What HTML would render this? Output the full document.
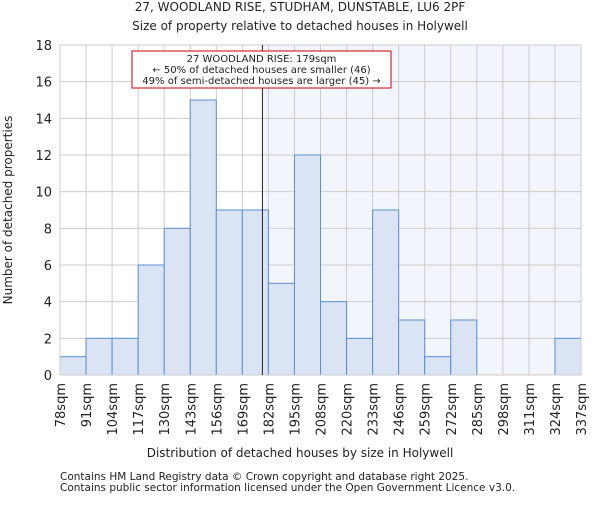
<!DOCTYPE html>
<html><head><meta charset="utf-8"><style>body{margin:0;background:#fff}svg text{font-family:"DejaVu Sans","Liberation Sans",sans-serif;fill:#222}</style></head>
<body>
<svg id="c" width="600" height="500">
<text x="300" y="11" text-anchor="middle" font-size="12">27, WOODLAND RISE, STUDHAM, DUNSTABLE, LU6 2PF</text>
<text x="300" y="30" text-anchor="middle" font-size="12">Size of property relative to detached houses in Holywell</text>
<g id="plot"></g>
<text x="300" y="457" text-anchor="middle" font-size="12">Distribution of detached houses by size in Holywell</text>
<text transform="translate(12,210) rotate(-90)" text-anchor="middle" font-size="12">Number of detached properties</text>
<text x="60" y="480" font-size="10.5">Contains HM Land Registry data © Crown copyright and database right 2025.</text>
<text x="60" y="491" font-size="10.5">Contains public sector information licensed under the Open Government Licence v3.0.</text>
</svg>
<script>
const categories=["78sqm","91sqm","104sqm","117sqm","130sqm","143sqm","156sqm","169sqm","182sqm","195sqm","208sqm","220sqm","233sqm","246sqm","259sqm","272sqm","285sqm","298sqm","311sqm","324sqm","337sqm"];
const counts=[1,2,2,6,8,15,9,9,5,12,4,2,9,3,1,3,0,0,0,2];
const yTicks=[0,2,4,6,8,10,12,14,16,18];
const propertyIndex=7.77;
const NS="http://www.w3.org/2000/svg";
const g=document.getElementById('plot');
const L=60,R=581,T=45,B=375,n=counts.length,bw=(R-L)/n;
const x=i=>L+i*bw, y=v=>B-(v/18)*(B-T);
function mk(t,a){const e=document.createElementNS(NS,t);for(const k in a)e.setAttribute(k,a[k]);g.appendChild(e);return e;}
let sh=mk('rect',{x:x(propertyIndex),y:T,width:R-x(propertyIndex),height:B-T,fill:'#f2f5fc'});


for(let i=0;i<=n;i++){const l=mk('line',{x1:x(i),x2:x(i),y1:T,y2:B,stroke:'#ccc'});

}
yTicks.forEach(v=>{const l=mk('line',{x1:L,x2:R,y1:y(v),y2:y(v),stroke:'#ccc'});


const t=mk('text',{x:L-8,y:y(v)+5,'text-anchor':'end','font-size':13});t.textContent=v;

});
counts.forEach((v,i)=>{if(v<=0)return;const r=mk('rect',{x:x(i),y:y(v),width:bw,height:B-y(v),fill:'#dae4f4',stroke:'#5b8fd0','stroke-width':1});

});
categories.forEach((c,i)=>{const t=mk('text',{transform:`translate(${x(i)+5},${B+8}) rotate(-90)`,'text-anchor':'end','font-size':13});t.textContent=c;

});
const ax=mk('rect',{x:L,y:T,width:R-L,height:B-T,fill:'none',stroke:'#ccc'});


const pl=mk('line',{x1:x(propertyIndex),x2:x(propertyIndex),y1:T,y2:B,stroke:'#222','stroke-width':1});


const box=mk('rect',{x:132,y:51,width:259,height:37,fill:'#fff',stroke:'#c00','stroke-width':1});


["27 WOODLAND RISE: 179sqm","← 50% of detached houses are smaller (46)","49% of semi-detached houses are larger (45) →"].forEach((s,k)=>{const t=mk('text',{x:261.5,y:62+k*11,'text-anchor':'middle','font-size':10});t.textContent=s;

});
</script>
</body></html>
